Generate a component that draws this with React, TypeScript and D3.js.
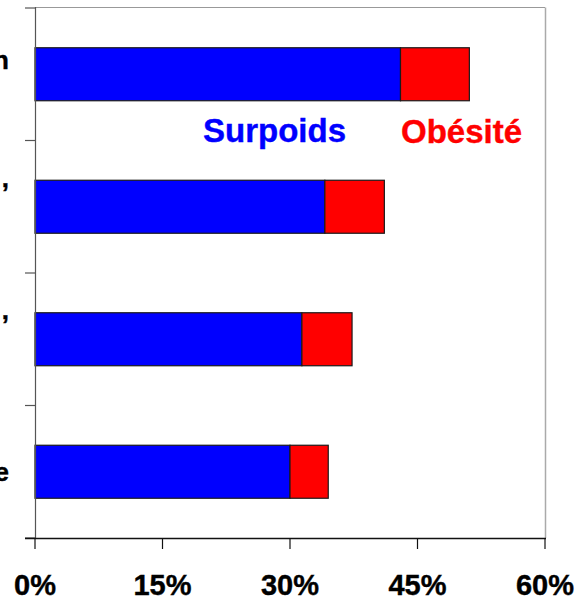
import React, { useEffect, useRef } from "react";
import * as d3 from "d3";

const categories = ["c1", "c2", "c3", "c4"];
const categoryLabels: string[][] = [
  ["Ensemble de la population", "adulte"],
  ["Revenus modestes ,", "ouvriers", "employés"],
  ["Revenus moyens ,", "professions", "intermédiaires"],
  ["Cadres supérieure"],
];
const surpoids = [43.0, 34.1, 31.4, 30.0];
const obesite = [8.1, 7.0, 5.9, 4.5];
const xTicks = [0, 15, 30, 45, 60];
const seriesNames = ["Surpoids", "Obésité"];
const seriesColors = ["#0000ff", "#ff0000"];

const W = 578;
const H = 599;
const FONT = "'Liberation Sans', Arial, Helvetica, sans-serif";

export default function App() {
  const ref = useRef<SVGSVGElement>(null);

  useEffect(() => {
    const svg = d3.select(ref.current);
    svg.selectAll("*").remove();

    const x = d3.scaleLinear().domain([0, 60]).range([35, 545]);
    const y = d3.scaleBand().domain(categories).range([8, 538]).padding(0);
    const bw = y.bandwidth();
    const barH = bw * 0.4;

    // plot border (top and right)
    svg.append("line").attr("x1", x(0)).attr("x2", x(60)).attr("y1", 7.5).attr("y2", 7.5)
      .attr("stroke", "#999").attr("stroke-width", 1);
    svg.append("line").attr("x1", x(60) + 0.5).attr("x2", x(60) + 0.5).attr("y1", 7.5).attr("y2", 538)
      .attr("stroke", "#aaa").attr("stroke-width", 1.5);

    // bars
    categories.forEach((c, i) => {
      const top = (y(c) as number) + (bw - barH) / 2;
      const vals = [surpoids[i], obesite[i]];
      let start = 0;
      vals.forEach((v, j) => {
        svg.append("rect")
          .attr("x", x(start))
          .attr("y", top)
          .attr("width", x(start + v) - x(start))
          .attr("height", barH)
          .attr("fill", seriesColors[j])
          .attr("stroke", "#1a1a1a")
          .attr("stroke-width", 1.2);
        start += v;
      });
    });

    // y axis
    svg.append("line").attr("x1", 35.5).attr("x2", 35.5).attr("y1", 7).attr("y2", 538)
      .attr("stroke", "#555").attr("stroke-width", 1.2);
    const bounds = categories.map((c) => y(c) as number).concat([538]);
    bounds.forEach((b) => {
      svg.append("line").attr("x1", 25).attr("x2", 35.5).attr("y1", b).attr("y2", b)
        .attr("stroke", "#555").attr("stroke-width", 1.2);
    });

    // x axis
    svg.append("line").attr("x1", 25).attr("x2", x(60) + 1).attr("y1", 538.5).attr("y2", 538.5)
      .attr("stroke", "#111").attr("stroke-width", 1.3);
    xTicks.forEach((t) => {
      svg.append("line").attr("x1", x(t)).attr("x2", x(t)).attr("y1", 538).attr("y2", 549)
        .attr("stroke", "#111").attr("stroke-width", 1.2);
      svg.append("text")
        .attr("x", x(t))
        .attr("y", 595)
        .attr("text-anchor", "middle")
        .attr("font-family", FONT)
        .attr("font-weight", "bold")
        .attr("font-size", 29)
        .attr("stroke", "#000")
        .attr("stroke-width", 0.4)
        .attr("fill", "#000")
        .text(`${t}%`);
    });

    // category labels (centered multi-line, mostly cut off at left)
    categories.forEach((c, i) => {
      const lines = categoryLabels[i];
      const cy = (y(c) as number) + bw / 2;
      const lh = 29;
      const g = svg.append("g");
      const texts = lines.map((ln, k) =>
        g.append("text")
          .attr("y", cy + (k - (lines.length - 1) / 2) * lh + 9)
          .attr("text-anchor", "middle")
          .attr("font-family", FONT)
          .attr("font-weight", "bold")
          .attr("font-size", 26)
          .attr("stroke", "#000")
          .attr("stroke-width", 0.4)
          .attr("fill", "#000")
          .text(ln)
      );
      let maxLen = 0;
      texts.forEach((t) => {
        const n = (t.node() as SVGTextElement).getComputedTextLength();
        if (n > maxLen) maxLen = n;
      });
      texts.forEach((t) => t.attr("x", 9 - maxLen / 2));
    });

    // legend labels
    const legendPos = [
      { x: 203, y: 142 },
      { x: 401, y: 143 },
    ];
    seriesNames.forEach((s, j) => {
      svg.append("text")
        .attr("x", legendPos[j].x)
        .attr("y", legendPos[j].y)
        .attr("font-family", FONT)
        .attr("font-weight", "bold")
        .attr("font-size", 33)
        .attr("stroke", seriesColors[j])
        .attr("stroke-width", 0.4)
        .attr("fill", seriesColors[j])
        .text(s);
    });
  }, []);

  return (
    <div style={{ position: "fixed", left: 0, top: 0, width: W, height: H, background: "#fff" }}>
      <svg ref={ref} width={W} height={H} style={{ display: "block" }} />
    </div>
  );
}
